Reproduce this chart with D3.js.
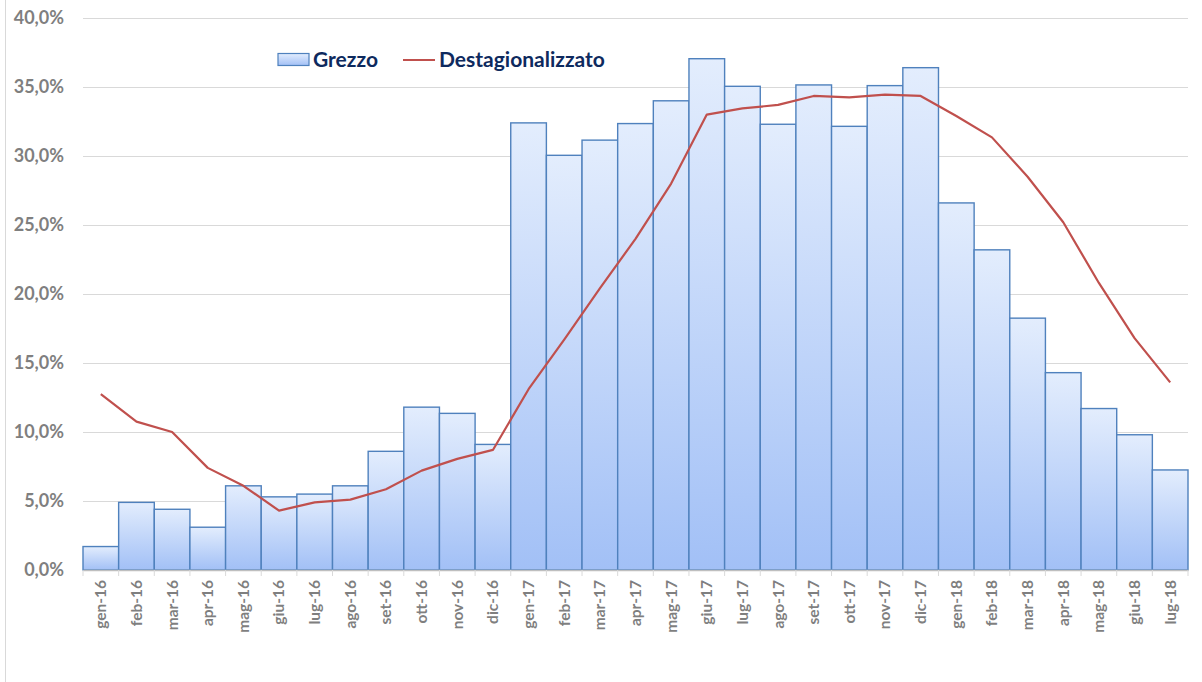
<!DOCTYPE html>
<html>
<head>
<meta charset="utf-8">
<script src="https://cdn.jsdelivr.net/npm/d3@7"></script>
<style>
  html, body { margin: 0; padding: 0; background: #ffffff; }
  svg { display: block; }
</style>
</head>
<body>
<svg id="chart" width="1202" height="682"></svg>
<script>
const months = ["gen-16","feb-16","mar-16","apr-16","mag-16","giu-16","lug-16","ago-16","set-16","ott-16","nov-16","dic-16",
  "gen-17","feb-17","mar-17","apr-17","mag-17","giu-17","lug-17","ago-17","set-17","ott-17","nov-17","dic-17",
  "gen-18","feb-18","mar-18","apr-18","mag-18","giu-18","lug-18"];
const grezzo = [1.7, 4.9, 4.4, 3.1, 6.1, 5.3, 5.5, 6.1, 8.6, 11.8, 11.35, 9.1,
  32.4, 30.05, 31.15, 32.35, 34.0, 37.05, 35.05, 32.3, 35.15, 32.15, 35.1, 36.4,
  26.6, 23.2, 18.25, 14.3, 11.7, 9.8, 7.25];
const destag = [12.75, 10.75, 10.0, 7.4, 6.1, 4.3, 4.9, 5.1, 5.85, 7.2, 8.05, 8.7,
  13.1, 16.7, 20.4, 24.0, 28.0, 33.0, 33.45, 33.7, 34.35, 34.25, 34.45, 34.35,
  32.9, 31.35, 28.5, 25.2, 20.8, 16.8, 13.6];
const yTicks = [0, 5, 10, 15, 20, 25, 30, 35, 40];
const seriesNames = ["Grezzo", "Destagionalizzato"];

const svg = d3.select("#chart");
const pLeft = 83, pRight = 1188, pTop = 18, pBottom = 570;

const x = d3.scaleBand().domain(months).range([pLeft, pRight]).padding(0);
const y = d3.scaleLinear().domain([0, 40]).range([pBottom, pTop]);

const it = d3.formatLocale({decimal: ",", thousands: ".", grouping: [3], currency: ["€", ""]});
const fmt = v => it.format(".1f")(v) + "%";

// chart border (left edge)
svg.append("line").attr("x1", 5.5).attr("x2", 5.5).attr("y1", 0).attr("y2", 682)
  .attr("stroke", "#d9d9d9").attr("stroke-width", 1);

// gradient
const defs = svg.append("defs");
const grad = defs.append("linearGradient").attr("id", "barGrad")
  .attr("x1", 0).attr("y1", 0).attr("x2", 0).attr("y2", 1);
grad.append("stop").attr("offset", "0%").attr("stop-color", "#e3edfd");
grad.append("stop").attr("offset", "100%").attr("stop-color", "#a2c0f6");

// gridlines
svg.append("g").selectAll("line").data(yTicks.filter(d => d > 0)).join("line")
  .attr("x1", pLeft).attr("x2", pRight)
  .attr("y1", d => Math.round(y(d)) + 0.5).attr("y2", d => Math.round(y(d)) + 0.5)
  .attr("stroke", "#d9d9d9").attr("stroke-width", 1);

// y axis labels
const yAxis = d3.axisLeft(y).tickValues(yTicks).tickFormat(fmt).tickSize(0).tickPadding(19);
const gy = svg.append("g").attr("transform", `translate(${pLeft},0)`).call(yAxis);
gy.select(".domain").remove();
gy.selectAll("text").attr("fill", "#7f7f7f").style("font-family", "Lato, 'Open Sans', sans-serif")
  .style("font-weight", "bold").style("font-size", "18px");

// bars
svg.append("g").selectAll("rect").data(months).join("rect")
  .attr("x", d => x(d))
  .attr("y", (d, i) => y(grezzo[i]))
  .attr("width", x.bandwidth())
  .attr("height", (d, i) => y(0) - y(grezzo[i]))
  .attr("fill", "url(#barGrad)")
  .attr("stroke", "#4f81bd").attr("stroke-width", 1.4);

// x axis
const xAxis = d3.axisBottom(x).tickSize(0).tickPadding(8);
const gx = svg.append("g").attr("transform", `translate(0,${pBottom})`).call(xAxis);
gx.select(".domain").attr("stroke", "#bfbfbf").attr("stroke-width", 1.5);
gx.selectAll("text")
  .attr("transform", "rotate(-90)")
  .attr("text-anchor", "end")
  .attr("x", -10).attr("y", 0).attr("dy", "0.35em")
  .attr("fill", "#7f7f7f")
  .style("font-family", "Lato, 'Open Sans', sans-serif")
  .style("font-weight", "bold").style("font-size", "15.5px");
// tick marks at band edges
const edges = months.map(m => x(m)).concat([pRight]);
svg.append("g").selectAll("line").data(edges).join("line")
  .attr("x1", d => d).attr("x2", d => d)
  .attr("y1", pBottom).attr("y2", pBottom + 6)
  .attr("stroke", "#d9d9d9").attr("stroke-width", 1);

// line
const line = d3.line().x((d, i) => x(months[i]) + x.bandwidth() / 2).y(d => y(d));
svg.append("path").datum(destag).attr("d", line)
  .attr("fill", "none").attr("stroke", "#c0504d").attr("stroke-width", 2.2)
  .attr("stroke-linejoin", "round");

// legend
const lg = svg.append("g").style("font-family", "Lato, 'Open Sans', sans-serif")
  .style("font-weight", "bold").style("font-size", "21px");
lg.append("rect").attr("x", 278).attr("y", 53.5).attr("width", 31).attr("height", 12)
  .attr("fill", "url(#barGrad)").attr("stroke", "#4f81bd").attr("stroke-width", 1.2);
lg.append("text").attr("x", 313).attr("y", 67).attr("fill", "#0e2a5e").text(seriesNames[0]);
lg.append("line").attr("x1", 403).attr("x2", 435).attr("y1", 60).attr("y2", 60)
  .attr("stroke", "#c0504d").attr("stroke-width", 2);
lg.append("text").attr("x", 439).attr("y", 67).attr("fill", "#0e2a5e").text(seriesNames[1]);
</script>
</body>
</html>
